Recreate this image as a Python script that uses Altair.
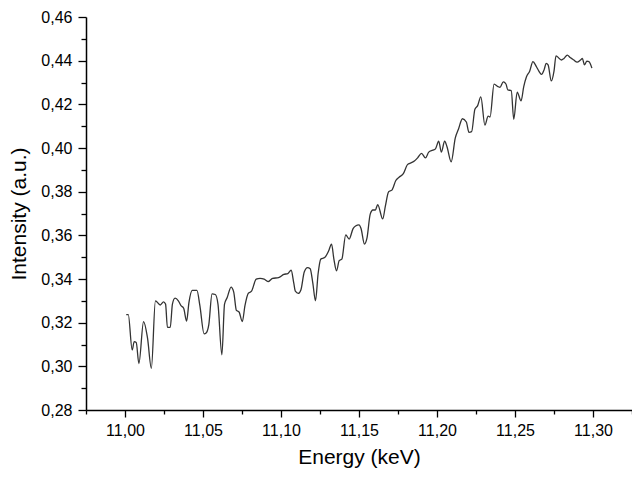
import altair as alt
import pandas as pd

energy = [
    11.0008, 11.0021, 11.0046, 11.0059, 11.0072, 11.0089, 11.0119, 11.0144, 11.0169, 11.0195,
    11.0226, 11.0247, 11.0260, 11.0272, 11.0290, 11.0304, 11.0321, 11.0342, 11.0359, 11.0376,
    11.0395, 11.0410, 11.0431, 11.0461, 11.0480, 11.0507, 11.0520, 11.0537, 11.0558, 11.0579,
    11.0596, 11.0621, 11.0638, 11.0655, 11.0680, 11.0697, 11.0714, 11.0731, 11.0752, 11.0769,
    11.0790, 11.0811, 11.0841, 11.0866, 11.0892, 11.0917, 11.0946, 11.0984, 11.1018, 11.1044,
    11.1065, 11.1082, 11.1092, 11.1111, 11.1128, 11.1149, 11.1170, 11.1187, 11.1204, 11.1221,
    11.1238, 11.1255, 11.1280, 11.1305, 11.1324, 11.1339, 11.1356, 11.1373, 11.1390, 11.1415,
    11.1437, 11.1462, 11.1478, 11.1500, 11.1513, 11.1535, 11.1551, 11.1572, 11.1589, 11.1605,
    11.1620, 11.1652, 11.1669, 11.1690, 11.1711, 11.1736, 11.1757, 11.1783, 11.1812, 11.1833,
    11.1855, 11.1876, 11.1901, 11.1926, 11.1947, 11.1973, 11.1990, 11.2011, 11.2028, 11.2049,
    11.2064, 11.2091, 11.2117, 11.2138, 11.2163, 11.2188, 11.2205, 11.2222, 11.2243, 11.2260,
    11.2281, 11.2307, 11.2328, 11.2340, 11.2366, 11.2391, 11.2404, 11.2425, 11.2442, 11.2454,
    11.2476, 11.2492, 11.2514, 11.2539, 11.2556, 11.2573, 11.2594, 11.2615, 11.2636, 11.2653,
    11.2670, 11.2687, 11.2700, 11.2712, 11.2733, 11.2750, 11.2763, 11.2784, 11.2797, 11.2814,
    11.2835, 11.2856, 11.2877, 11.2898, 11.2920, 11.2932, 11.2945, 11.2961, 11.2974, 11.2993,
]

intensity = [
    0.3237, 0.3237, 0.3075, 0.3113, 0.3109, 0.3013, 0.3205, 0.3131, 0.2991, 0.3300,
    0.3281, 0.3295, 0.3285, 0.3178, 0.3178, 0.3285, 0.3312, 0.3300, 0.3278, 0.3266,
    0.3207, 0.3293, 0.3348, 0.3348, 0.3278, 0.3149, 0.3153, 0.3190, 0.3332, 0.3329,
    0.3285, 0.3053, 0.3285, 0.3315, 0.3363, 0.3340, 0.3256, 0.3249, 0.3205, 0.3278,
    0.3334, 0.3344, 0.3399, 0.3403, 0.3399, 0.3388, 0.3403, 0.3406, 0.3421, 0.3425,
    0.3440, 0.3381, 0.3344, 0.3334, 0.3351, 0.3432, 0.3452, 0.3447, 0.3381, 0.3300,
    0.3425, 0.3491, 0.3498, 0.3528, 0.3560, 0.3491, 0.3437, 0.3484, 0.3491, 0.3602,
    0.3583, 0.3631, 0.3643, 0.3648, 0.3631, 0.3560, 0.3587, 0.3697, 0.3716, 0.3716,
    0.3741, 0.3675, 0.3734, 0.3800, 0.3807, 0.3851, 0.3866, 0.3881, 0.3925, 0.3932,
    0.3940, 0.3955, 0.3975, 0.3955, 0.3981, 0.3990, 0.3996, 0.4031, 0.3981, 0.4031,
    0.4006, 0.3937, 0.4045, 0.4087, 0.4134, 0.4119, 0.4072, 0.4075, 0.4178, 0.4193,
    0.4234, 0.4105, 0.4146, 0.4142, 0.4293, 0.4281, 0.4278, 0.4303, 0.4293, 0.4266,
    0.4263, 0.4131, 0.4256, 0.4216, 0.4281, 0.4325, 0.4352, 0.4396, 0.4374, 0.4352,
    0.4337, 0.4359, 0.4388, 0.4381, 0.4307, 0.4352, 0.4422, 0.4410, 0.4403, 0.4410,
    0.4425, 0.4413, 0.4403, 0.4393, 0.4403, 0.4410, 0.4381, 0.4398, 0.4396, 0.4366,
]

x_ticks = [10.975, 11.0, 11.025, 11.05, 11.075, 11.1, 11.125, 11.15, 11.175,
           11.2, 11.225, 11.25, 11.275, 11.3, 11.325]
y_ticks = [0.28, 0.29, 0.30, 0.31, 0.32, 0.33, 0.34, 0.35, 0.36, 0.37,
           0.38, 0.39, 0.40, 0.41, 0.42, 0.43, 0.44, 0.45, 0.46]

df = pd.DataFrame({"energy": energy, "intensity": intensity})

x_major = "round(datum.value*1000) % 50 == 0"
y_major = "round(datum.value*100) % 2 == 0"

chart = alt.Chart(df).mark_line(
    color="#333333", strokeWidth=1.3, interpolate="monotone"
).encode(
    x=alt.X(
        "energy:Q",
        scale=alt.Scale(domain=[10.975, 11.325], nice=False, zero=False),
        axis=alt.Axis(
            title="Energy (keV)",
            values=x_ticks,
            labelExpr=x_major + " ? replace(format(datum.value, '.2f'), '.', ',') : ''",
            tickSize={"condition": {"test": x_major, "value": 7}, "value": 4},
            labelPadding=5,
            titlePadding=8,
            labelFlush=False,
            labelOverlap=False,
        ),
    ),
    y=alt.Y(
        "intensity:Q",
        scale=alt.Scale(domain=[0.28, 0.46], nice=False, zero=False),
        axis=alt.Axis(
            title="Intensity (a.u.)",
            values=y_ticks,
            labelExpr=y_major + " ? replace(format(datum.value, '.2f'), '.', ',') : ''",
            tickSize={"condition": {"test": y_major, "value": 8}, "value": 5},
            labelPadding=6,
            titlePadding=11,
            labelFlush=False,
            labelOverlap=False,
        ),
    ),
).properties(
    width=546,
    height=393,
    padding={"left": 78, "top": 9, "right": 0, "bottom": 60},
    autosize=alt.AutoSizeParams(type="none"),
).configure_view(
    stroke=None
).configure_axis(
    grid=False,
    domainColor="black",
    domainWidth=1.5,
    tickColor="black",
    tickWidth=1.3,
    labelFont="Liberation Sans",
    labelFontSize=16,
    labelColor="black",
    titleFont="Liberation Sans",
    titleFontSize=21,
    titleFontWeight="normal",
    titleColor="black",
)

chart.save("out.html", embed_options={"renderer": "svg", "actions": False})
